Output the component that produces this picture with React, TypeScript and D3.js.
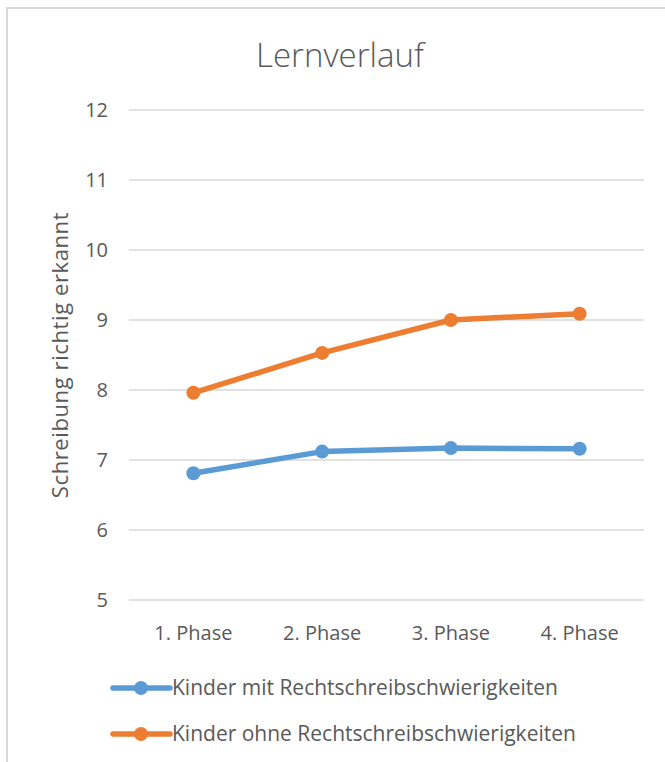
import React from 'react';
import * as d3 from 'd3';

const phases = ['1. Phase', '2. Phase', '3. Phase', '4. Phase'];
const mitSchwierigkeiten = [6.81, 7.12, 7.17, 7.16];
const ohneSchwierigkeiten = [7.96, 8.53, 9.0, 9.09];
const yTicks = [5, 6, 7, 8, 9, 10, 11, 12];

const seriesList = [
  { name: 'Kinder mit Rechtschreibschwierigkeiten', values: mitSchwierigkeiten, color: '#5b9bd5' },
  { name: 'Kinder ohne Rechtschreibschwierigkeiten', values: ohneSchwierigkeiten, color: '#ed7d31' },
];

const W = 665;
const H = 762;
const plot = { left: 129, right: 644, top: 110, bottom: 600 };
const font = '"Open Sans", sans-serif';
const textColor = '#595959';

export default function App() {
  const x = d3.scaleBand().domain(phases).range([plot.left, plot.right]);
  const y = d3.scaleLinear().domain([5, 12]).range([plot.bottom, plot.top]);
  const line = d3
    .line<number>()
    .x((d, i) => (x(phases[i]) as number) + x.bandwidth() / 2)
    .y((d) => y(d));

  return (
    <svg width={W} height={H} style={{ position: 'absolute', left: 0, top: 0, display: 'block' }}>
      <rect x={0} y={0} width={W} height={H} fill="#fff" />
      {/* chart frame, only left and top edges are visible */}
      <path d={`M7,${H + 5}V8H${W + 5}`} fill="none" stroke="#d9d9d9" strokeWidth={2} />

      <text x={340} y={55} dy="0.35em" textAnchor="middle" fontFamily={font} fontWeight={300} fontSize={33} fill={textColor}>
        Lernverlauf
      </text>

      {yTicks.map((t) => (
        <g key={t}>
          <line x1={plot.left} x2={plot.right} y1={y(t)} y2={y(t)} stroke="#d9d9d9" strokeWidth={1.5} />
          <text x={108} y={y(t)} dy="0.35em" textAnchor="end" fontFamily={font} fontSize={20} fill={textColor}>
            {t}
          </text>
        </g>
      ))}

      <text
        transform={`translate(60,${(plot.top + plot.bottom) / 2}) rotate(-90)`}
        textAnchor="middle"
        dy="0.35em"
        fontFamily={font}
        fontSize={22}
        letterSpacing={0.6}
        fill={textColor}
      >
        Schreibung richtig erkannt
      </text>

      {phases.map((p) => (
        <text
          key={p}
          x={(x(p) as number) + x.bandwidth() / 2}
          y={633}
          dy="0.35em"
          textAnchor="middle"
          fontFamily={font}
          fontSize={20}
          fill={textColor}
        >
          {p}
        </text>
      ))}

      {seriesList.map((s) => (
        <g key={s.name}>
          <path d={line(s.values) as string} fill="none" stroke={s.color} strokeWidth={5.5} strokeLinejoin="round" />
          {s.values.map((v, i) => (
            <circle key={i} cx={(x(phases[i]) as number) + x.bandwidth() / 2} cy={y(v)} r={7} fill={s.color} />
          ))}
        </g>
      ))}

      {seriesList.map((s, i) => {
        const ly = 688 + i * 46;
        return (
          <g key={s.name}>
            <line x1={113} x2={170} y1={ly} y2={ly} stroke={s.color} strokeWidth={5.5} strokeLinecap="round" />
            <circle cx={141} cy={ly} r={7} fill={s.color} />
            <text x={172} y={ly} dy="0.35em" fontFamily={font} fontSize={21} fill={textColor}>
              {s.name}
            </text>
          </g>
        );
      })}
    </svg>
  );
}
